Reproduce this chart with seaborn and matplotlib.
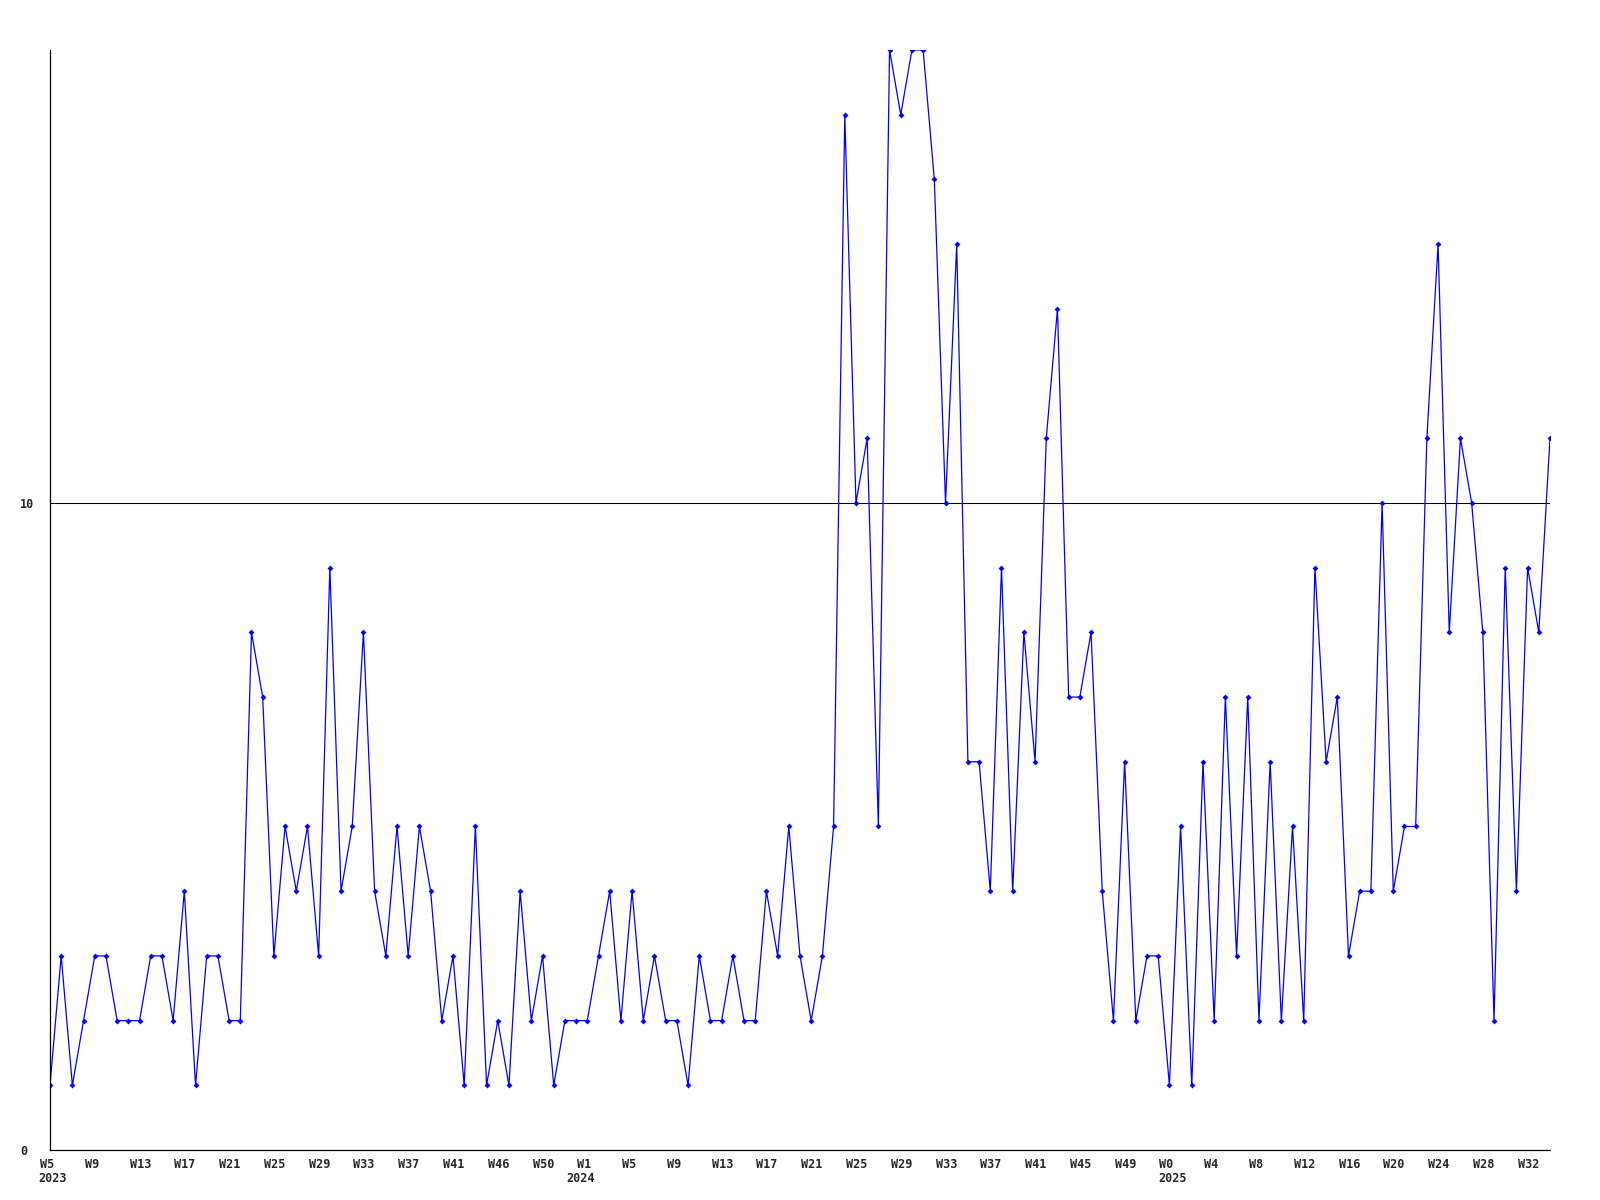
import numpy as np
import pandas as pd
import matplotlib
matplotlib.use('Agg')
import matplotlib.pyplot as plt
import matplotlib.transforms as mtransforms
import seaborn as sb

# weekly counts, W5 2023 .. W34 2025
counts = [1, 3, 1, 2, 3, 3, 2, 2, 2, 3,
          3, 2, 4, 1, 3, 3, 2, 2, 8, 7,
          3, 5, 4, 5, 3, 9, 4, 5, 8, 4,
          3, 5, 3, 5, 4, 2, 3, 1, 5, 1,
          2, 1, 4, 2, 3, 1, 2, 2, 2, 3,
          4, 2, 4, 2, 3, 2, 2, 1, 3, 2,
          2, 3, 2, 2, 4, 3, 5, 3, 2, 3,
          5, 16, 10, 11, 5, 17, 16, 17, 17, 15,
          10, 14, 6, 6, 4, 9, 4, 8, 6, 11,
          13, 7, 7, 8, 4, 2, 6, 2, 3, 3,
          1, 5, 1, 6, 2, 7, 3, 7, 2, 6,
          2, 5, 2, 9, 6, 7, 3, 4, 4, 10,
          4, 5, 5, 11, 14, 8, 11, 10, 8, 2,
          9, 4, 9, 8, 11]

week_labels = ['W5', 'W9', 'W13', 'W17', 'W21', 'W25', 'W29', 'W33', 'W37', 'W41', 'W46', 'W50',
               'W1', 'W5', 'W9', 'W13', 'W17', 'W21', 'W25', 'W29', 'W33', 'W37', 'W41', 'W45', 'W49',
               'W0', 'W4', 'W8', 'W12', 'W16', 'W20', 'W24', 'W28', 'W32']
year_labels = {0: '2023', 12: '2024', 25: '2025'}

y_ticks = [0, 10]

df = pd.DataFrame({'week': np.arange(len(counts)), 'count': counts})

sb.set_theme(style='white')
plt.rcParams['font.family'] = ['DejaVu Sans Mono', 'DejaVu Sans']

fig = plt.figure(figsize=(16, 12), dpi=100)
ax = fig.add_axes([50 / 1600, 50 / 1200, 1500 / 1600, 1100 / 1200])

sb.lineplot(data=df, x='week', y='count', ax=ax, color='#0000ff', linewidth=0.9,
            marker='D', markersize=3, markeredgewidth=0, markerfacecolor='#0000ff')

# labels every 4 weeks
tick_pos = np.arange(len(week_labels)) * 4
ax.set_xticks(tick_pos)
ax.set_xticklabels(week_labels, ha='left', fontsize=8.5, fontweight='bold')
ax.set_yticks(y_ticks)
ax.set_yticklabels([str(v) for v in y_ticks], ha='left', fontsize=8.5, fontweight='bold')
ax.tick_params(axis='x', length=0, pad=6)
ax.tick_params(axis='y', length=0, pad=21.6)

ax.set_xlim(0, len(counts) - 1)
ax.set_ylim(0, 17)

# week labels start ~10px left of their point
shift = mtransforms.ScaledTranslation(-0.10, 0, fig.dpi_scale_trans)
for lbl in ax.get_xticklabels():
    lbl.set_transform(lbl.get_transform() + shift)

# year under the first week of each year
for k, year in year_labels.items():
    dx = -15.1 if year == '2024' else -8.2
    ax.annotate(year, xy=(tick_pos[k], 0), xycoords=('data', 'axes fraction'),
                xytext=(dx, -15.5), textcoords='offset points',
                ha='left', va='top', fontsize=8.5, fontweight='bold', annotation_clip=False)

ax.yaxis.grid(True, color='black', linewidth=0.75)
ax.xaxis.grid(False)
ax.set_axisbelow(True)

for side in ['top', 'right']:
    ax.spines[side].set_visible(False)
for side in ['left', 'bottom']:
    ax.spines[side].set_color('black')
    ax.spines[side].set_linewidth(0.9)

ax.set_xlabel('')
ax.set_ylabel('')

fig.savefig('out.png', dpi=100)
